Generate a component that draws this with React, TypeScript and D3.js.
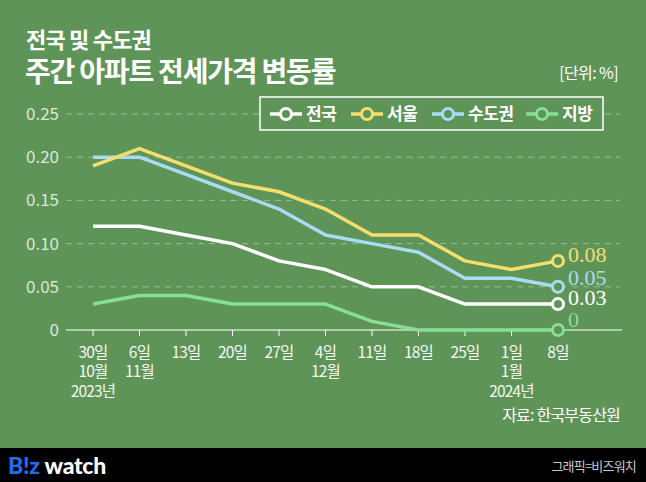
import React from "react";
import * as d3 from "d3";

const dayLabels = ["30일", "6일", "13일", "20일", "27일", "4일", "11일", "18일", "25일", "1일", "8일"];
const monthLabels = ["10월", "11월", "", "", "", "12월", "", "", "", "1월", ""];
const yearLabels = ["2023년", "", "", "", "", "", "", "", "", "2024년", ""];
const yTicks = [0, 0.05, 0.1, 0.15, 0.2, 0.25];
const yTickLabels = ["0", "0.05", "0.10", "0.15", "0.20", "0.25"];

const seriesNames = ["전국", "서울", "수도권", "지방"];
const seriesColors = ["#ffffff", "#f5de6e", "#a8dcf3", "#86df95"];
const nationwide = [0.12, 0.12, 0.11, 0.10, 0.08, 0.07, 0.05, 0.05, 0.03, 0.03, 0.03];
const seoul = [0.19, 0.21, 0.19, 0.17, 0.16, 0.14, 0.11, 0.11, 0.08, 0.07, 0.08];
const capital = [0.20, 0.20, 0.18, 0.16, 0.14, 0.11, 0.10, 0.09, 0.06, 0.06, 0.05];
const regions = [0.03, 0.04, 0.04, 0.03, 0.03, 0.03, 0.01, 0, 0, 0, 0];
const endLabels = ["0.03", "0.08", "0.05", "0"];

const W = 646;
const H = 482;
const BG = "#5f9459";
const FONT = "'Noto Sans CJK KR', 'Noto Sans', sans-serif";

export default function App() {
  const x = d3.scalePoint<number>().domain(d3.range(dayLabels.length)).range([93, 558]);
  const y = d3.scaleLinear().domain([0, 0.25]).range([330, 114]);
  const all = [nationwide, seoul, capital, regions];
  const drawOrder = [3, 0, 2, 1];
  const line = d3
    .line<number>()
    .x((_, i) => x(i) as number)
    .y((d) => y(d));
  const endLabelY = [y(0.03) + 1, y(0.08) + 1, y(0.05) - 2, y(0) - 3];
  const legendX = [270, 351, 432, 526];

  return (
    <svg width={W} height={H} style={{ position: "absolute", left: 0, top: 0, display: "block" }} fontFamily={FONT}>
      <rect x={0} y={0} width={W} height={H} fill={BG} />
      {/* Titles */}
      <text x={26} y={48} fill="#fff" fontSize={22} fontWeight={700} letterSpacing={-0.8}>
        전국 및 수도권
      </text>
      <text x={25} y={82} fill="#fff" fontSize={28} fontWeight={700} letterSpacing={-1.2}>
        주간 아파트 전세가격 변동률
      </text>
      <text x={618} y={79} fill="#fff" fontSize={16} textAnchor="end" letterSpacing={-0.6}>
        [단위: %]
      </text>

      {/* Grid */}
      {yTicks.slice(1).map((t) => (
        <line key={t} x1={66} x2={620} y1={y(t)} y2={y(t)} stroke="#a9c6a4" strokeWidth={1} strokeDasharray="6,5" opacity={0.8} />
      ))}
      {yTicks.map((t, i) => (
        <text key={t} x={59} y={y(t) + 6} fill="#dbe8d7" fontSize={17} textAnchor="end">
          {yTickLabels[i]}
        </text>
      ))}
      <line x1={66} x2={622} y1={y(0)} y2={y(0)} stroke="#fff" strokeWidth={1.2} />
      {dayLabels.map((d, i) => (
        <g key={i}>
          <line x1={x(i)} x2={x(i)} y1={y(0)} y2={y(0) + 6} stroke="#fff" strokeWidth={1} />
          <text x={x(i)} y={358} fill="#f4f7f2" fontSize={15.5} textAnchor="middle" letterSpacing={-0.8}>
            {d}
          </text>
          {monthLabels[i] && (
            <text x={x(i)} y={377} fill="#f4f7f2" fontSize={15.5} textAnchor="middle" letterSpacing={-0.8}>
              {monthLabels[i]}
            </text>
          )}
          {yearLabels[i] && (
            <text x={x(i)} y={397} fill="#f4f7f2" fontSize={15.5} textAnchor="middle" letterSpacing={-0.8}>
              {yearLabels[i]}
            </text>
          )}
        </g>
      ))}

      {/* Lines */}
      {drawOrder.map((si) => (
        <path key={si} d={line(all[si]) || ""} fill="none" stroke={seriesColors[si]} strokeWidth={3.5} strokeLinejoin="round" />
      ))}
      {drawOrder.map((si) => {
        const last = all[si].length - 1;
        return (
          <g key={"e" + si}>
            <circle cx={x(last)} cy={y(all[si][last])} r={5.5} fill={BG} stroke={seriesColors[si]} strokeWidth={3} />
            <text x={568} y={endLabelY[si]} fill={seriesColors[si]} fontSize={22} fontFamily="'Liberation Serif', 'DejaVu Serif', serif">
              {endLabels[si]}
            </text>
          </g>
        );
      })}

      {/* Legend */}
      <rect x={260} y={97} width={343} height={33} fill={BG} stroke="#fff" strokeWidth={1.5} />
      {seriesNames.map((n, i) => (
        <g key={n}>
          <line x1={legendX[i]} x2={legendX[i] + 32} y1={114} y2={114} stroke={seriesColors[i]} strokeWidth={3.5} />
          <circle cx={legendX[i] + 16} cy={114} r={5.5} fill={BG} stroke={seriesColors[i]} strokeWidth={3} />
          <text x={legendX[i] + 36} y={120} fill="#fff" fontSize={17} fontWeight={700} letterSpacing={-0.5}>
            {n}
          </text>
        </g>
      ))}

      {/* Source */}
      <text x={620} y={421} fill="#fff" fontSize={16} textAnchor="end" letterSpacing={-0.8}>
        자료: 한국부동산원
      </text>

      {/* Footer */}
      <rect x={0} y={448} width={W} height={34} fill="#000" />
      <text x={8} y={474} fontSize={23} fontWeight={900} fontFamily="Lato, 'Noto Sans', 'DejaVu Sans', sans-serif" letterSpacing={-0.3}>
        <tspan fill="#1f6df2">B!z</tspan>
        <tspan fill="#fff" dx={5}>watch</tspan>
      </text>
      <text x={636} y={471} fill="#c8c8c8" fontSize={13} textAnchor="end" letterSpacing={-0.8}>
        그래픽=비즈워치
      </text>
    </svg>
  );
}
